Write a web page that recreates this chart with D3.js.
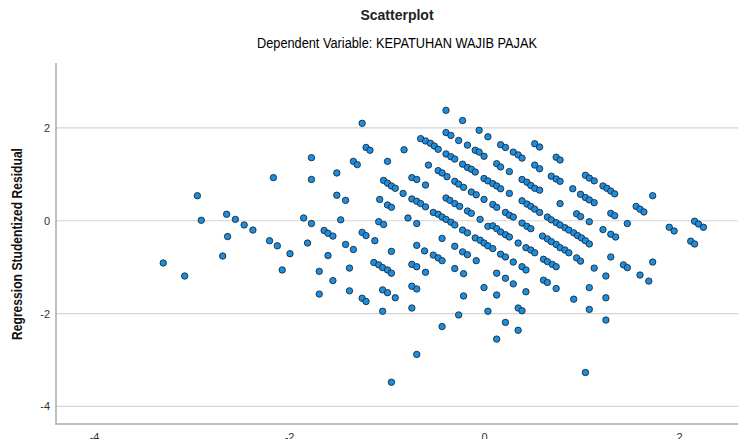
<!DOCTYPE html>
<html>
<head>
<meta charset="utf-8">
<script src="https://cdn.jsdelivr.net/npm/d3@7"></script>
<style>
  body { margin: 0; background: #fff; }
  svg { display: block; font-family: "Liberation Sans", Arial, sans-serif; }
</style>
</head>
<body>
<div id="chart"></div>
<script>
// Regression standardized predicted value (x) and studentized residual (y)
var predicted = [
  -3.29, -3.07, -2.94, -2.90, -2.68, -2.64, -2.63, -2.55, -2.46, -2.37,
  -2.20, -2.16, -2.12, -2.07, -1.99, -1.85, -1.81, -1.77, -1.77, -1.77,
  -1.69, -1.69, -1.64, -1.60, -1.55, -1.60, -1.55, -1.51, -1.51, -1.47,
  -1.42, -1.42, -1.38, -1.38, -1.34, -1.30, -1.34, -1.25, -1.25, -1.21,
  -1.25, -1.21, -1.21, -1.17, -1.12, -1.13, -1.08, -1.04, -0.99, -0.95,
  -1.08, -1.03, -1.07, -1.03, -0.99, -0.95, -0.91, -0.99, -0.99, -0.95,
  -1.04, -0.99, -0.91, -1.04, -0.95, -0.95, -0.82, -0.83, -0.78, -0.74,
  -0.69, -0.74, -0.69, -0.65, -0.60, -0.69, -0.69, -0.61, -0.74, -0.69,
  -0.60, -0.74, -0.69, -0.74, -0.69, -0.65, -0.60, -0.55, -0.51, -0.47,
  -0.57, -0.60, -0.47, -0.43, -0.38, -0.52, -0.47, -0.43, -0.39, -0.34,
  -0.30, -0.43, -0.52, -0.47, -0.43, -0.43, -0.39, -0.39, -0.34, -0.39,
  -0.34, -0.30, -0.39, -0.35, -0.30, -0.25, -0.30, -0.26, -0.21, -0.30,
  -0.30, -0.26, -0.26, -0.22, -0.17, -0.22, -0.17, -0.13, -0.09, -0.22,
  -0.17, -0.22, -0.17, -0.21, -0.21, -0.17, -0.13, -0.13, -0.08, -0.09,
  -0.05, 0.00, -0.08, -0.09, -0.04, 0.00, 0.04, 0.09, -0.05, 0.04,
  -0.04, 0.00, 0.04, 0.09, 0.13, 0.17, 0.00, 0.04, 0.00, 0.04,
  0.09, 0.13, 0.09, 0.13, 0.17, 0.22, 0.26, 0.13, 0.17, 0.13,
  0.13, 0.13, 0.17, 0.22, 0.17, 0.22, 0.22, 0.22, 0.22, 0.26,
  0.30, 0.26, 0.26, 0.30, 0.35, 0.39, 0.30, 0.30, 0.35, 0.35,
  0.39, 0.35, 0.39, 0.44, 0.48, 0.52, 0.57, 0.39, 0.44, 0.48,
  0.52, 0.57, 0.39, 0.44, 0.48, 0.43, 0.48, 0.52, 0.39, 0.43,
  0.43, 0.52, 0.57, 0.52, 0.57, 0.65, 0.69, 0.74, 0.78, 0.83,
  0.87, 0.92, 0.96, 1.00, 1.04, 1.08, 0.60, 0.65, 0.69, 0.74,
  0.78, 0.83, 0.87, 0.61, 0.65, 0.70, 0.74, 0.61, 0.65, 0.74,
  0.69, 0.74, 0.78, 0.74, 0.78, 0.78, 0.91, 0.92, 0.95, 0.99,
  0.95, 0.99, 0.99, 1.04, 1.08, 1.13, 1.04, 1.08, 1.13, 1.08,
  1.08, 1.08, 1.13, 1.04, 1.22, 1.26, 1.30, 1.34, 1.22, 1.30,
  1.34, 1.30, 1.35, 1.30, 1.25, 1.25, 1.25, 1.43, 1.47, 1.47,
  1.56, 1.60, 1.64, 1.60, 1.69, 1.73, 1.73, 1.90, 1.95, 2.12,
  2.16, 2.16, 2.20, 2.25
];
var residual = [
  -0.91, -1.19, 0.54, 0.01, -0.76, 0.14, -0.34, 0.03, -0.09, -0.20,
  -0.43, 0.93, -0.54, -1.06, -0.71, 0.06, -0.48, 1.36, 0.89, -0.06,
  -1.09, -1.58, -0.21, -0.27, -0.33, -0.75, -1.29, 1.03, 0.55, 0.02,
  0.44, -0.51, -1.02, -1.51, 1.28, 1.21, -0.62, 2.10, -0.25, -0.32,
  -1.67, -1.74, 1.58, 1.52, -0.43, -0.90, -0.95, -1.01, -1.06, -1.13,
  -0.02, -0.08, 0.46, 0.87, 0.81, 0.75, 0.70, 1.28, 0.34, 0.29,
  -1.49, -1.55, -1.66, -1.95, -3.48, -0.66, 1.53, 0.59, 0.06, 0.93,
  0.89, 0.47, 0.42, 0.37, 0.30, -0.06, -0.53, -0.65, -0.94, -0.99,
  -1.11, -1.41, -1.47, -1.88, -2.88, 1.77, 1.72, 1.67, 1.61, 1.54,
  1.20, 0.77, 1.08, 1.03, 0.95, 0.18, 0.14, 0.08, 0.03, -0.03,
  -0.09, -0.38, -0.74, -0.80, -0.86, -2.28, 2.38, 1.90, 1.84, 1.44,
  1.38, 1.33, 0.49, 0.44, 0.37, 0.31, 0.85, 0.79, 0.72, -0.55,
  -1.03, 1.73, -2.03, 2.16, 1.63, 1.22, 1.15, 1.11, 1.05, -0.20,
  -0.26, -0.67, -0.73, -1.14, -1.62, 0.21, 0.16, 0.62, 0.56, 1.52,
  1.48, 1.39, -0.86, -0.37, -0.42, -0.48, -0.54, -0.60, 1.95, 1.81,
  0.03, 0.91, 0.86, 0.80, 0.75, 0.69, 0.46, -0.12, -1.44, -1.95,
  0.35, 0.29, -0.11, -0.17, -0.24, -0.30, -0.35, 1.23, 1.16, -1.13,
  -1.60, -2.55, 1.64, 1.58, -0.72, -0.78, -1.24, -2.19, 0.18, 0.12,
  0.08, 1.06, 0.59, 1.48, 1.42, 1.35, -0.89, -1.36, -0.48, -1.88,
  -1.94, -2.36, 0.89, 0.83, 0.76, 0.70, 0.66, 0.43, 0.36, 0.31,
  0.25, 0.18, -0.05, -0.12, -0.17, -0.58, -0.63, -0.69, -0.99, -1.06,
  -1.53, 1.66, 1.59, 1.20, 1.12, 0.08, 0.02, -0.04, -0.09, -0.15,
  -0.20, -0.26, -0.32, -0.37, -0.43, -0.50, -0.33, -0.39, -0.45, -0.51,
  -0.58, -0.63, -0.69, -0.83, -0.88, -0.94, -0.99, -1.28, -1.33, -1.46,
  0.96, 0.90, 0.85, 1.37, 1.31, 0.37, 0.69, -1.69, 0.15, 0.09,
  -0.80, -0.87, 0.57, 0.50, 0.45, 0.39, 0.98, 0.92, 0.86, -0.02,
  -1.44, -1.91, -1.02, -3.27, 0.75, 0.70, 0.64, 0.58, -0.19, 0.16,
  0.11, -0.29, -0.35, -0.78, -1.19, -1.66, -2.14, -0.95, -1.01, -0.06,
  0.31, 0.25, 0.19, -1.17, -1.30, 0.54, -0.89, -0.14, -0.22, -0.44,
  -0.50, -0.01, -0.07, -0.14
];
var xTicks = [-4, -2, 0, 2];
var yTicks = [-4, -2, 0, 2];
var titleText = 'Scatterplot';
var subtitleText = 'Dependent Variable: KEPATUHAN WAJIB PAJAK';
var yLabel = 'Regression Studentized Residual';

var width = 738, height = 439;
var plotLeft = 56, plotRight = 738, plotTop = 63, plotBottom = 424;

var points = predicted.map(function(d, i) { return {x: d, y: residual[i]}; });

var svg = d3.select('#chart').append('svg')
    .attr('width', width)
    .attr('height', height);

// scales calibrated on the gridlines / tick labels
var x = d3.scaleLinear().domain([-4.39, 2.605]).range([plotLeft, plotRight]);
var y = d3.scaleLinear().domain([-4.38, 3.40]).range([plotBottom, plotTop]);

// plain hyphen for negatives, like the original
var fmt = function(d) { return String(d); };

// horizontal gridlines
svg.append('g')
    .selectAll('line')
    .data(yTicks)
    .enter().append('line')
    .attr('x1', plotLeft)
    .attr('x2', plotRight)
    .attr('y1', function(d) { return y(d); })
    .attr('y2', function(d) { return y(d); })
    .attr('stroke', '#d4d4d4')
    .attr('stroke-width', 1.2);

// y axis (no tick marks, only labels)
var yAxis = svg.append('g')
    .attr('transform', 'translate(' + plotLeft + ',0)')
    .call(d3.axisLeft(y).tickValues(yTicks).tickSize(0).tickPadding(6).tickFormat(fmt));
yAxis.select('.domain').remove();
yAxis.selectAll('text')
    .attr('fill', '#333')
    .style('font-size', '11px');

// x axis
var xAxis = svg.append('g')
    .attr('transform', 'translate(0,' + plotBottom + ')')
    .call(d3.axisBottom(x).tickValues(xTicks).tickSize(0).tickPadding(9).tickFormat(fmt));
xAxis.select('.domain').remove();
xAxis.selectAll('text')
    .attr('fill', '#333')
    .style('font-size', '11px');

// axis frame lines
svg.append('line')
    .attr('x1', plotLeft).attr('x2', plotLeft)
    .attr('y1', plotTop).attr('y2', plotBottom + 1)
    .attr('stroke', '#aaa').attr('stroke-width', 1.5);
svg.append('line')
    .attr('x1', plotLeft).attr('x2', plotRight)
    .attr('y1', plotBottom).attr('y2', plotBottom)
    .attr('stroke', '#aaa').attr('stroke-width', 1.5);

// points
svg.append('g')
    .selectAll('circle')
    .data(points)
    .enter().append('circle')
    .attr('cx', function(d) { return x(d.x); })
    .attr('cy', function(d) { return y(d.y); })
    .attr('r', 3.2)
    .attr('fill', '#1b8ee2')
    .attr('stroke', '#1c2a36')
    .attr('stroke-width', 0.9);

// titles
svg.append('text')
    .attr('x', 397).attr('y', 20)
    .attr('text-anchor', 'middle')
    .style('font-size', '14px')
    .style('font-weight', 'bold')
    .attr('fill', '#222')
    .text(titleText);
svg.append('text')
    .attr('x', 397).attr('y', 48)
    .attr('text-anchor', 'middle')
    .style('font-size', '14px')
    .attr('fill', '#000')
    .attr('textLength', 280)
    .attr('lengthAdjust', 'spacingAndGlyphs')
    .text(subtitleText);

// y axis title
svg.append('text')
    .attr('transform', 'translate(22,244) rotate(-90)')
    .attr('text-anchor', 'middle')
    .style('font-size', '14px')
    .style('font-weight', 'bold')
    .attr('fill', '#111')
    .attr('textLength', 192)
    .attr('lengthAdjust', 'spacingAndGlyphs')
    .text(yLabel);
</script>
</body>
</html>
